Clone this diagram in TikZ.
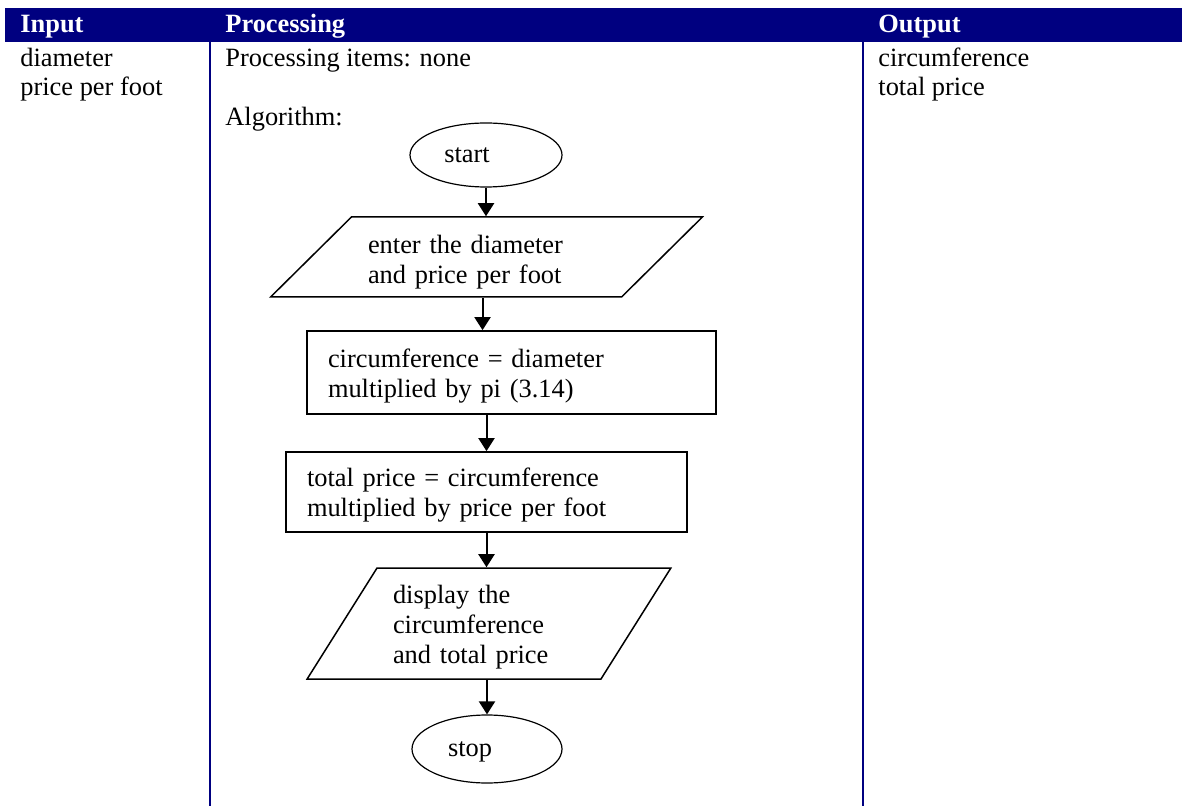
\documentclass[tikz,border=0pt]{standalone}
\usepackage{fontspec}
\setmainfont{Liberation Serif}
\usetikzlibrary{shapes.geometric,arrows.meta}
\definecolor{hdrblue}{RGB}{0,0,128}
\newcommand{\fcstrut}{\rule{0pt}{12.8pt}}
\begin{document}
\begin{tikzpicture}[x=0.5pt,y=-0.5pt,
  basefont/.style={font=\fontsize{13.2pt}{15pt}\selectfont},
  txt/.style={basefont, anchor=base west, inner sep=0pt},
  hdr/.style={anchor=base west, inner sep=0pt, text=white, font=\fontsize{13.2pt}{15pt}\selectfont\bfseries},
  term/.style={basefont, draw, ellipse, line width=0.6pt, inner sep=0pt, text depth=0pt},
  procbox/.style={basefont, draw, rectangle, line width=0.85pt, align=left, inner sep=0pt},
  iobox/.style={basefont, draw, trapezium, trapezium stretches=true, line width=0.75pt, align=left, inner sep=0pt},
  arr/.style={line width=1pt, -{Triangle[length=6.5pt,width=8pt]}},
  colline/.style={hdrblue, line width=1pt}]
\useasboundingbox (0,0) rectangle (1182,806);
% table
\fill[hdrblue] (5,8) rectangle (1182,42);
\draw[colline] (210,42) -- (210,806);
\draw[colline] (862.5,42) -- (862.5,806);
\node[hdr] (hin) at (20,33) {Input};
\node[hdr] (hproc) at (225,33) {Processing};
\node[hdr] (hout) at (878,33) {Output};
\node[txt] (in1) at (20,67) {diameter};
\node[txt] (in2) at (20,96) {price per foot};
\node[txt] (pitems) at (225,67) {Processing items: none};
\node[txt] (alg) at (225,126) {Algorithm:};
\node[txt] (out1) at (878,67) {circumference};
\node[txt] (out2) at (878,96) {total price};
% flowchart
\node[term, minimum width=76pt, minimum height=32pt] (start) at (486,155) {start\kern19pt};
\node[iobox, trapezium left angle=42.6, trapezium right angle=137.4,
      minimum width=216.5pt, minimum height=40pt, text width=118.5pt]
      (par1) at (486.5,257) {\rule{0pt}{14.8pt}enter the diameter\\and price per foot};
\node[procbox, minimum width=204.5pt, minimum height=41.5pt, text width=183.5pt]
      (box1) at (511.5,372.5) {\fcstrut circumference = diameter\\multiplied by pi (3.14)};
\node[procbox, minimum width=200.5pt, minimum height=40pt, text width=179.5pt]
      (box2) at (486.5,492) {\fcstrut total price = circumference\\multiplied by price per foot};
\node[iobox, trapezium left angle=56.7, trapezium right angle=123.3,
      minimum width=182pt, minimum height=55.5pt, text width=96pt]
      (par2) at (489,623.5) {\fcstrut display the\\circumference\\and total price};
\node[term, minimum width=75pt, minimum height=34pt] (stop) at (487,749) {stop\kern17pt};
% connectors
\draw[arr] (start.south) -- (start.south |- par1.north);
\draw[arr] ([xshift=-2pt]par1.south) -- ([xshift=-2pt]par1.south |- box1.north);
\draw[arr] (box2.north |- box1.south) -- (box2.north);
\draw[arr] (box2.south) -- (box2.south |- par2.north);
\draw[arr] (stop.north |- par2.south) -- (stop.north);
\end{tikzpicture}
\end{document}
